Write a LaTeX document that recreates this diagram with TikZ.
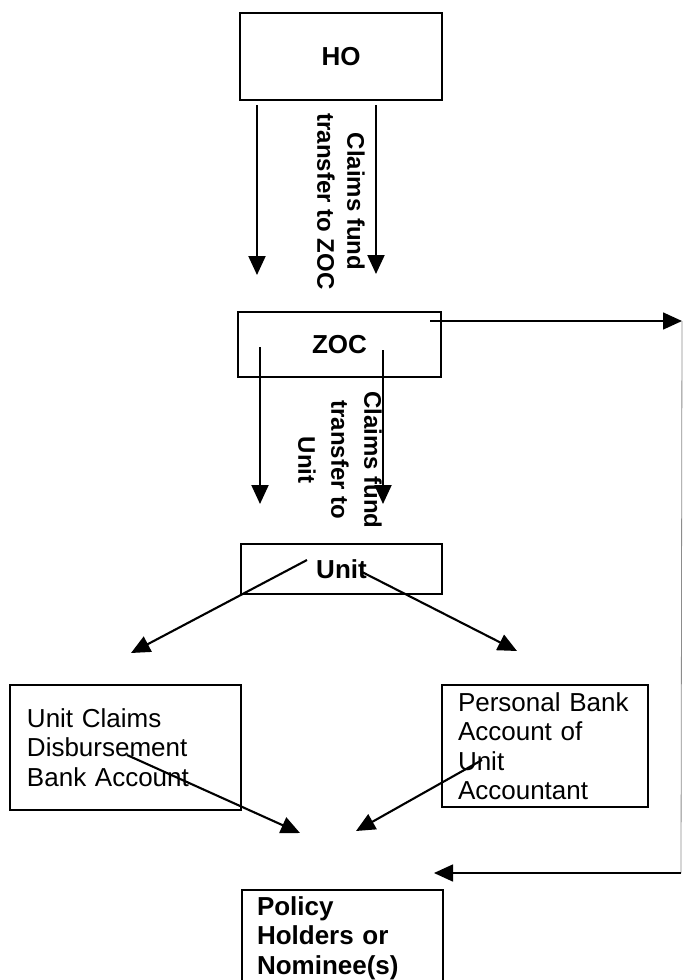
\documentclass[tikz,border=0pt]{standalone}
\usepackage{fontspec}
\setmainfont{Liberation Sans}
\usetikzlibrary{arrows.meta}
\begin{document}
\begin{tikzpicture}[x=1pt,y=-1pt,
  box/.style={draw, line width=1.5pt, rectangle, inner sep=0pt, outer sep=0pt},
  title/.style={font=\fontsize{26}{30}\selectfont\bfseries},
  body/.style={font=\fontsize{26}{29.5}\selectfont, align=left},
  flow/.style={line width=2.1pt, -{Triangle[length=19pt,width=17pt]}},
  vlabel/.style={font=\fontsize{24}{30}\selectfont\bfseries, rotate=-90, align=center, inner sep=0pt},
  faint/.style={draw=black!45, line width=0.8pt},
]
\useasboundingbox (0,0) rectangle (683,980);
\clip (0,0) rectangle (683,980);

% offices
\node[box, title, minimum width=202pt, minimum height=87pt] (ho) at (341,56.5) {HO};
\node[box, title, minimum width=203pt, minimum height=65pt] (zoc) at (339.5,344.5) {ZOC};
\node[box, title, minimum width=201pt, minimum height=50pt] (unit) at (341.5,569) {Unit};

% bank accounts
\node[box, body, text width=197pt, inner xsep=17pt, minimum height=125pt] (unitacc) at (125.5,747.5)
  {Unit Claims\\Disbursement\\Bank Account};
\node[box, body, text width=174pt, inner xsep=16pt, minimum height=122pt] (persacc) at (545,746)
  {Personal Bank\\Account of\\Unit\\Accountant};

% payees
\node[box, body, font=\fontsize{26}{29.5}\selectfont\bfseries, text width=171pt, inner xsep=15pt,
  minimum height=96pt] (policy) at (342.5,938) {Policy\\Holders or\\Nominee(s)};

% rotated transfer labels
\node[vlabel] (lblho) at (341,201.5) {Claims fund\\transfer to ZOC};
\node[vlabel, font=\fontsize{24}{33}\selectfont\bfseries] (lblzoc) at (340,460) {Claims fund\\transfer to\\Unit};

% connector ends
\coordinate (hoL) at (257,105);   \coordinate (zocTopL) at (257,275);
\coordinate (hoR) at (376,105);   \coordinate (zocTopR) at (376,274);
\coordinate (zocL) at (260,347);  \coordinate (unitTopL) at (260,504);
\coordinate (zocR) at (383,350);  \coordinate (unitTopR) at (383,504);
\coordinate (unitL) at (307,560); \coordinate (leftTip) at (131,653);
\coordinate (unitR) at (362,572); \coordinate (rightTip) at (517,651);
\coordinate (accL) at (127,755);  \coordinate (polL) at (300,833);
\coordinate (accR) at (482,760);  \coordinate (polR) at (356,831);
\coordinate (zocE) at (430,321);  \coordinate (sideTop) at (682,321);
\coordinate (sideBot) at (681,873); \coordinate (polTop) at (434,873);

% fund flow
\draw[flow] (hoL) -- (zocTopL);
\draw[flow] (hoR) -- (zocTopR);
\draw[flow] (zocL) -- (unitTopL);
\draw[flow] (zocR) -- (unitTopR);
\draw[flow] (unitL) -- (leftTip);
\draw[flow] (unitR) -- (rightTip);
\draw[flow] (accL) -- (polL);
\draw[flow] (accR) -- (polR);

% direct route from ZOC
\draw[flow, line width=1.6pt] (zocE) -- (sideTop);
\draw[faint] (sideTop) -- (sideBot);
\draw[flow, line width=1.6pt] (sideBot) -- (polTop);
\end{tikzpicture}
\end{document}
